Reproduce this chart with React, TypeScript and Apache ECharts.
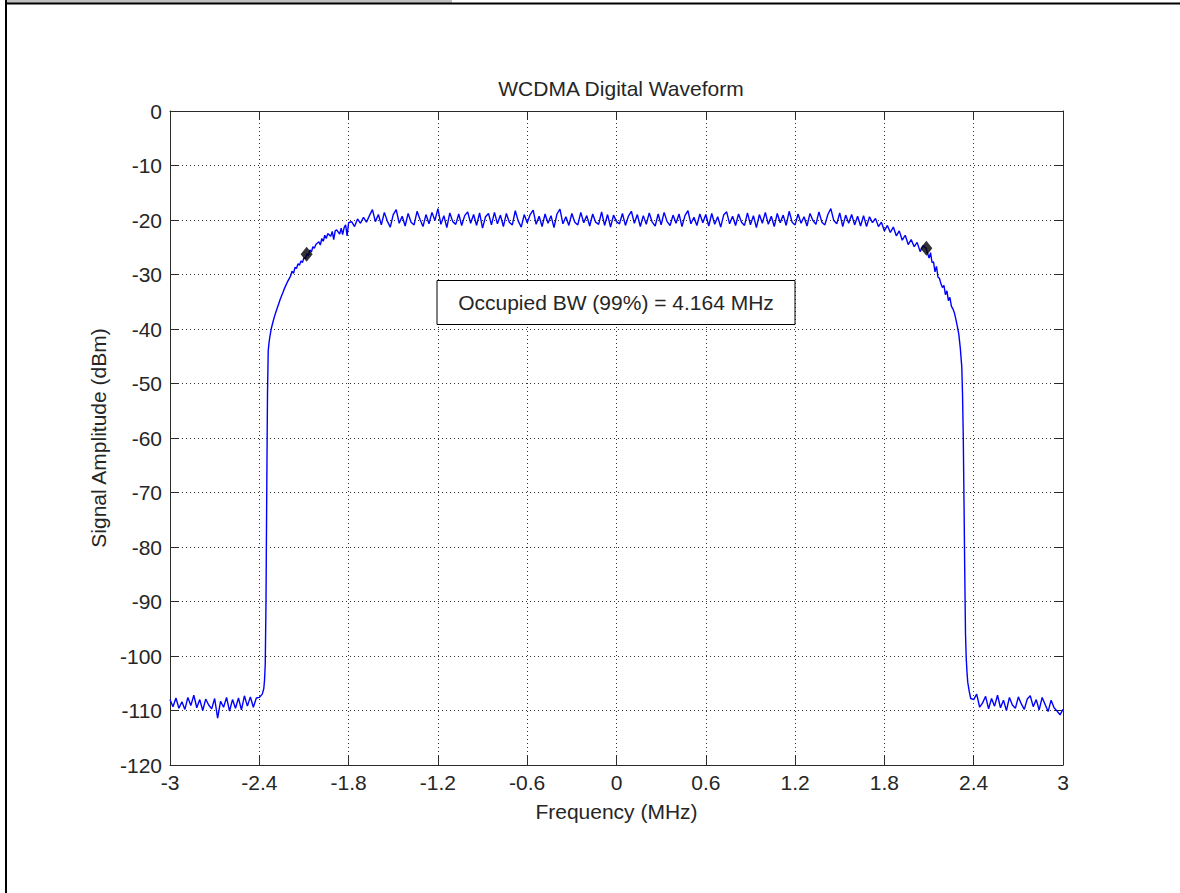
import React, { useEffect, useRef } from "react";
import * as echarts from "echarts";

const titleText = "WCDMA Digital Waveform";
const xAxisName = "Frequency (MHz)";
const yAxisName = "Signal Amplitude (dBm)";
const annotationText = "Occupied BW (99%) = 4.164 MHz";

const xMin = -3;
const xMax = 3;
const xInterval = 0.6;
const yMin = -120;
const yMax = 0;
const yInterval = 10;

const sampleStep = 0.02;

// Left noise floor, sampled from -3.00 MHz
const leftFloorStart = -3.0;
const leftFloorDb = [
  -108.0, -109.3, -107.7, -109.6, -108.4, -109.8, -107.6, -109.1, -107.2, -109.5,
  -108.0, -110.0, -107.9, -109.0, -109.7, -107.8, -111.4, -108.3, -109.4, -107.6,
  -110.1, -108.0, -109.6, -107.7, -109.9, -107.3, -109.2, -107.5, -109.4, -107.7,
  -107.6, -107.0,
];

// Left skirt [MHz, dBm]
const leftSkirt: [number, number][] = [
  [-2.37, -106.0], [-2.365, -104.5], [-2.36, -101.5], [-2.355, -90.0], [-2.35, -70.0],
  [-2.345, -52.0], [-2.34, -44.0], [-2.335, -42.6], [-2.33, -41.6], [-2.32, -40.0],
  [-2.31, -38.9], [-2.3, -37.9], [-2.29, -37.0], [-2.28, -36.2], [-2.27, -35.4],
  [-2.26, -34.6], [-2.25, -33.9], [-2.24, -33.2], [-2.23, -32.5], [-2.22, -31.9],
  [-2.21, -31.3], [-2.2, -30.8], [-2.19, -30.3], [-2.18, -29.4], [-2.17, -29.8],
  [-2.16, -28.7], [-2.15, -28.9], [-2.14, -28.0], [-2.13, -28.3], [-2.12, -27.5],
  [-2.11, -27.8], [-2.1, -26.9], [-2.09, -27.1], [-2.08, -26.2], [-2.07, -26.6],
  [-2.06, -25.5], [-2.05, -25.9], [-2.04, -24.9], [-2.03, -25.2], [-2.02, -24.5],
  [-2.0, -24.0], [-1.99, -24.6], [-1.98, -23.4], [-1.97, -23.9], [-1.96, -22.8],
  [-1.95, -23.4], [-1.94, -22.5], [-1.92, -23.0], [-1.91, -22.1], [-1.9, -23.6],
  [-1.89, -22.0], [-1.88, -21.8], [-1.86, -22.6], [-1.85, -21.5], [-1.84, -22.7],
  [-1.83, -21.4], [-1.82, -20.9], [-1.81, -22.9], [-1.8, -20.5], [-1.78, -20.3],
  [-1.76, -21.2], [-1.74, -19.8], [-1.72, -20.6], [-1.7, -19.5], [-1.68, -20.4],
  [-1.66, -19.2], [-1.64, -18.1], [-1.62, -20.3],
];

// Pass band, sampled from -1.60 MHz
const passbandStart = -1.6;
const passbandDb = [
  -19.0, -20.9, -18.6, -20.2, -21.3, -19.0, -18.1, -20.6, -19.3, -21.1,
  -18.8, -20.4, -20.9, -18.4, -19.9, -21.2, -19.0, -20.7, -18.6, -20.1,
  -17.9, -20.8, -19.2, -21.4, -18.7, -20.3, -20.8, -18.9, -21.0, -19.2,
  -18.5, -20.6, -19.0, -21.0, -18.7, -21.5, -19.4, -18.8, -20.9, -18.6,
  -20.7, -19.1, -21.2, -18.8, -20.4, -20.9, -18.3, -20.2, -21.3, -19.0,
  -20.5, -19.0, -18.2, -20.8, -19.3, -21.2, -18.9, -20.6, -19.2, -21.4,
  -18.9, -18.0, -20.7, -19.4, -21.0, -18.8, -20.4, -20.9, -18.6, -20.5,
  -19.2, -21.1, -18.9, -20.4, -20.8, -18.5, -21.0, -19.0, -21.3, -19.1,
  -20.3, -20.7, -18.8, -21.0, -19.3, -18.4, -20.6, -19.0, -21.2, -19.2,
  -20.8, -18.7, -20.4, -21.1, -18.9, -20.9, -18.6, -20.3, -21.0, -19.1,
  -20.6, -18.9, -21.2, -19.2, -18.3, -20.7, -19.5, -21.0, -18.9, -20.5,
  -19.0, -21.1, -18.8, -20.8, -19.4, -21.3, -19.1, -18.5, -20.7, -19.3,
  -21.0, -18.9, -20.4, -21.0, -18.7, -20.9, -19.2, -21.4, -19.0, -20.6,
  -18.6, -20.8, -19.3, -21.2, -18.8, -20.5, -19.1, -21.0, -18.4, -20.4,
  -20.9, -18.9, -20.6, -19.4, -21.1, -18.8, -20.1, -20.8, -18.5, -20.4,
  -20.9, -19.0, -17.9, -20.1, -20.7, -18.7, -21.2, -19.1, -20.6, -19.0,
  -20.9, -19.3, -21.1, -19.2, -21.2,
];

// Right skirt [MHz, dBm]
const rightSkirt: [number, number][] = [
  [1.7, -19.4], [1.72, -20.5], [1.74, -19.7], [1.76, -21.2], [1.78, -20.4],
  [1.8, -22.0], [1.82, -21.0], [1.84, -22.3], [1.86, -21.3], [1.88, -22.9],
  [1.9, -22.0], [1.92, -23.7], [1.94, -22.8], [1.96, -24.5], [1.98, -23.6],
  [2.0, -24.9], [2.02, -24.1], [2.04, -25.8], [2.06, -24.7], [2.08, -25.2],
  [2.1, -27.0], [2.11, -26.0], [2.12, -27.8], [2.13, -27.7], [2.14, -29.5],
  [2.15, -28.5], [2.16, -30.5], [2.17, -30.7], [2.18, -31.7], [2.19, -32.4],
  [2.2, -32.0], [2.21, -33.7], [2.22, -33.0], [2.23, -34.8], [2.24, -34.2],
  [2.25, -35.8], [2.26, -36.3], [2.27, -37.0], [2.28, -38.2], [2.29, -39.5],
  [2.3, -41.0], [2.31, -43.5], [2.32, -47.0], [2.325, -52.0], [2.33, -60.0],
  [2.335, -72.0], [2.34, -85.0], [2.345, -96.0], [2.35, -100.5], [2.355, -103.0],
  [2.36, -104.8], [2.37, -106.5], [2.38, -107.8],
];

// Right noise floor, sampled from 2.40 MHz
const rightFloorStart = 2.4;
const rightFloorDb = [
  -108.0, -107.0, -109.4, -108.6, -107.4, -109.7, -107.8, -109.2, -107.2, -109.5,
  -108.1, -110.0, -107.6, -109.0, -109.6, -107.5, -108.8, -109.8, -107.9, -107.3,
  -109.3, -108.0, -109.9, -107.6, -108.9, -110.2, -108.1, -109.5, -110.1, -110.8,
  -109.8,
];

// Occupied bandwidth edge markers [MHz, dBm]
const obwMarkers: [number, number][] = [
  [-2.082, -26.3],
  [2.082, -25.2],
];

function sampled(start: number, values: number[]): [number, number][] {
  return values.map((v, i) => [Math.round((start + i * sampleStep) * 1000) / 1000, v]);
}

const spectrum: [number, number][] = [
  ...sampled(leftFloorStart, leftFloorDb),
  ...leftSkirt,
  ...sampled(passbandStart, passbandDb),
  ...rightSkirt,
  ...sampled(rightFloorStart, rightFloorDb),
];

const FONT = "'Liberation Sans', Arial, sans-serif";
const TEXT_COLOR = "#262626";
const FS = 21;

export default function App() {
  const ref = useRef<HTMLDivElement>(null);

  useEffect(() => {
    document.body.style.margin = "0";
    if (!ref.current) return;
    const chart = echarts.init(ref.current, null, { renderer: "svg" });

    const fmt = (v: number) => String(Math.round(v * 10) / 10);
    const gridLine = { show: true, lineStyle: { color: "#333", width: 1, type: [1, 3] as any } };
    const frameLine = { show: true, onZero: false, lineStyle: { color: "#2a2a2a", width: 1 } };
    const inTick = { show: true, inside: true, length: 9, lineStyle: { color: "#2a2a2a", width: 1 } };

    chart.setOption({
      animation: false,
      backgroundColor: "#ffffff",
      textStyle: { fontFamily: FONT },
      title: {
        text: titleText,
        left: 616,
        textAlign: "center",
        top: 73,
        textStyle: { fontFamily: FONT, fontSize: FS, fontWeight: "normal", color: TEXT_COLOR },
      },
      grid: { left: 170, top: 111, width: 893, height: 654, containLabel: false },
      xAxis: [
        {
          type: "value",
          min: xMin,
          max: xMax,
          interval: xInterval,
          position: "bottom",
          axisLine: frameLine,
          axisTick: inTick,
          splitLine: gridLine,
          axisLabel: {
            formatter: fmt,
            fontFamily: FONT,
            fontSize: FS,
            color: TEXT_COLOR,
            margin: 7,
            showMinLabel: true,
            showMaxLabel: true,
          },
          name: xAxisName,
          nameLocation: "middle",
          nameGap: 36,
          nameTextStyle: { fontFamily: FONT, fontSize: FS, color: TEXT_COLOR },
        },
        {
          type: "value",
          min: xMin,
          max: xMax,
          interval: xInterval,
          position: "top",
          axisLine: frameLine,
          axisTick: inTick,
          splitLine: { show: false },
          axisLabel: { show: false },
        },
      ],
      yAxis: [
        {
          type: "value",
          min: yMin,
          max: yMax,
          interval: yInterval,
          position: "left",
          axisLine: frameLine,
          axisTick: inTick,
          splitLine: gridLine,
          axisLabel: {
            fontFamily: FONT,
            fontSize: FS,
            color: TEXT_COLOR,
            margin: 8,
            showMinLabel: true,
            showMaxLabel: true,
          },
          name: yAxisName,
          nameLocation: "middle",
          nameGap: 60,
          nameTextStyle: { fontFamily: FONT, fontSize: FS, color: TEXT_COLOR },
        },
        {
          type: "value",
          min: yMin,
          max: yMax,
          interval: yInterval,
          position: "right",
          axisLine: frameLine,
          axisTick: inTick,
          splitLine: { show: false },
          axisLabel: { show: false },
        },
      ],
      series: [
        {
          type: "line",
          name: "Spectrum",
          xAxisIndex: 0,
          yAxisIndex: 0,
          data: spectrum,
          showSymbol: false,
          symbol: "none",
          lineStyle: { color: "#0000ff", width: 1.4 },
          z: 3,
        },
        {
          type: "scatter",
          name: "OBW",
          xAxisIndex: 0,
          yAxisIndex: 0,
          data: obwMarkers,
          symbol: "diamond",
          symbolSize: [12, 15],
          itemStyle: { color: "#000000" },
          z: 4,
        },
      ],
      graphic: [
        {
          type: "rect",
          shape: { x: 5, y: 0, width: 447, height: 3 },
          style: { fill: "#c0c0c0", stroke: "none" },
          z: 10,
        },
        {
          type: "line",
          shape: { x1: 5, y1: 3.5, x2: 1180, y2: 3.5 },
          style: { stroke: "#000", lineWidth: 2 },
          z: 10,
        },
        {
          type: "line",
          shape: { x1: 6, y1: 0, x2: 6, y2: 893 },
          style: { stroke: "#000", lineWidth: 2 },
          z: 10,
        },
        {
          type: "group",
          z: 20,
          children: [
            {
              type: "rect",
              shape: { x: 437, y: 280.5, width: 358, height: 44 },
              style: { fill: "#ffffff", stroke: "#000", lineWidth: 1 },
              z: 20,
            },
            {
              type: "text",
              x: 616,
              y: 302.5,
              style: {
                text: annotationText,
                fontFamily: FONT,
                fontSize: FS,
                fill: TEXT_COLOR,
                align: "center",
                verticalAlign: "middle",
              },
              z: 21,
            },
          ],
        },
      ],
    });

    return () => {
      chart.dispose();
    };
  }, []);

  return (
    <div
      ref={ref}
      style={{ position: "absolute", left: 0, top: 0, width: 1180, height: 893, background: "#fff" }}
    />
  );
}
